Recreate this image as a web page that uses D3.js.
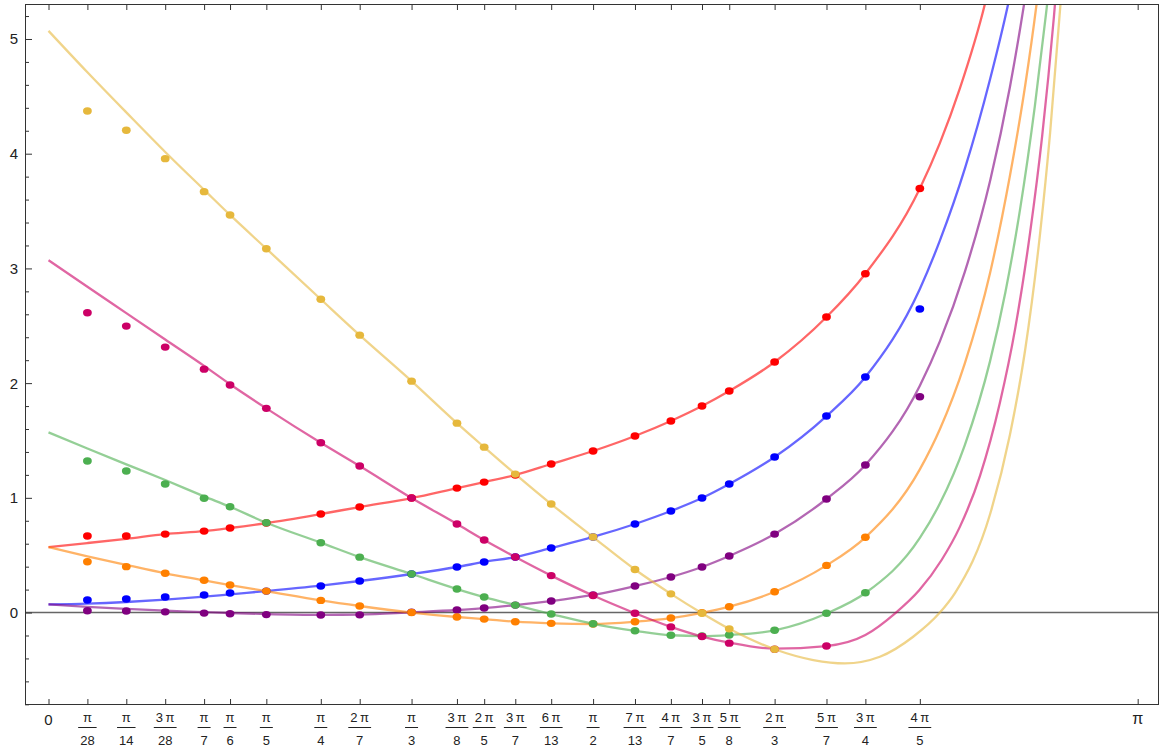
<!DOCTYPE html>
<html>
<head>
<meta charset="utf-8">
<script src="https://cdn.jsdelivr.net/npm/d3@7"></script>
<style>
  html, body { margin: 0; padding: 0; background: #fff; }
  svg { display: block; }
  text { font-family: "Liberation Sans", Arial, Helvetica, sans-serif; fill: #222; }
</style>
</head>
<body>
<svg id="chart" width="1161" height="752"></svg>
<script>
// Tick positions along x, as fractions of pi: [numerator, denominator]
const tickFractions = [[0,1],[1,28],[1,14],[3,28],[1,7],[1,6],[1,5],[1,4],[2,7],[1,3],[3,8],[2,5],[3,7],[6,13],[1,2],[7,13],[4,7],[3,5],[5,8],[2,3],[5,7],[3,4],[4,5],[1,1]];

// Curve samples on the grid 0, π/28, ..., 4π/5 (the first 23 tick positions);
// null where the continuation below takes over
const lineRed    = [0.571, 0.606, 0.643, 0.684, 0.710, 0.737, 0.780, 0.859, 0.920, 0.998, 1.085, 1.137, 1.199, 1.295, 1.408, 1.539, 1.670, 1.800, 1.931, 2.184, 2.576, 2.954, 3.697];
const lineBlue   = [0.071, 0.078, 0.092, 0.112, 0.138, 0.159, 0.187, 0.234, 0.275, 0.336, 0.397, 0.441, 0.484, 0.563, 0.659, 0.772, 0.885, 0.998, 1.120, 1.356, 1.713, 2.053, 2.821];
const linePurple = [0.071, 0.050, 0.032, 0.016, 0.004, -0.004, -0.013, -0.020, -0.018, 0.002, 0.022, 0.039, 0.065, 0.100, 0.153, 0.231, 0.310, 0.397, 0.493, 0.684, 0.990, 1.286, 1.978];
const lineOrange = [0.571, 0.490, 0.415, 0.342, 0.281, 0.240, 0.187, 0.106, 0.057, 0.000, -0.039, -0.057, -0.080, -0.094, -0.100, -0.080, -0.048, -0.002, 0.051, 0.181, 0.411, 0.656, 1.248];
const lineGreen  = [1.571, 1.430, 1.292, 1.155, 1.013, 0.922, 0.783, 0.609, 0.483, 0.336, 0.205, 0.135, 0.065, -0.013, -0.098, -0.159, -0.198, -0.205, -0.196, -0.155, -0.008, 0.170, 0.650];
const linePink   = [3.071, 2.840, 2.610, 2.380, 2.150, 1.990, 1.780, 1.480, 1.277, 0.998, 0.772, 0.632, 0.484, 0.322, 0.148, -0.006, -0.125, -0.209, -0.262, -0.315, -0.292, -0.196, null];
const lineYellow = [5.071, 4.710, 4.360, 4.015, 3.685, 3.466, 3.172, 2.731, 2.418, 2.017, 1.651, 1.442, 1.207, 0.946, 0.658, 0.375, 0.163, -0.006, -0.142, -0.320, null, null, null];

// Steep right-hand continuations: x in radians, y values
const tailRedX    = [2.571, 2.629, 2.701, 2.720];
const tailRedY    = [4.092, 4.571, 5.305, 5.55];
const tailBlueX   = [2.571, 2.644, 2.716, 2.768, 2.785];
const tailBlueY   = [3.242, 3.878, 4.651, 5.305, 5.55];
const tailPurpleX = [2.571, 2.643, 2.716, 2.773, 2.814, 2.830];
const tailPurpleY = [2.364, 2.969, 3.765, 4.580, 5.305, 5.62];
const tailOrangeX = [2.571, 2.643, 2.716, 2.773, 2.817, 2.850, 2.862];
const tailOrangeY = [1.598, 2.173, 2.963, 3.805, 4.592, 5.305, 5.60];
const tailGreenX  = [2.571, 2.643, 2.716, 2.760, 2.802, 2.845, 2.877, 2.886];
const tailGreenY  = [0.950, 1.460, 2.194, 2.792, 3.508, 4.415, 5.214, 5.45];
const tailPinkX   = [2.442, 2.512, 2.576, 2.629, 2.687, 2.744, 2.788, 2.831, 2.866, 2.900, 2.911];
const tailPinkY   = [-0.007, 0.196, 0.458, 0.749, 1.194, 1.827, 2.471, 3.305, 4.151, 5.194, 5.59];
const tailYellowX = [2.206, 2.297, 2.398, 2.494, 2.569, 2.615, 2.716, 2.773, 2.817, 2.860, 2.889, 2.918, 2.930];
const tailYellowY = [-0.414, -0.443, -0.385, -0.211, -0.007, 0.172, 0.859, 1.547, 2.289, 3.302, 4.181, 5.268, 5.77];

// Point values at π/28, π/14, ..., 4π/5 (null where there is no point)
const dotsRed    = [0.667, 0.667, 0.684, 0.710, 0.737, 0.780, 0.859, 0.920, 0.998, 1.085, 1.137, 1.199, 1.295, 1.408, 1.539, 1.670, 1.800, 1.931, 2.184, 2.576, 2.954, 3.697];
const dotsBlue   = [0.109, 0.118, 0.135, 0.153, 0.170, 0.187, 0.231, 0.275, 0.336, 0.397, 0.441, 0.484, 0.563, 0.659, 0.772, 0.885, 0.998, 1.120, 1.356, 1.713, 2.053, 2.646];
const dotsPurple = [0.015, 0.014, 0.006, -0.005, -0.010, -0.018, -0.022, -0.020, 0.002, 0.022, 0.039, 0.065, 0.100, 0.153, 0.231, 0.310, 0.397, 0.493, 0.684, 0.990, 1.286, 1.881];
const dotsOrange = [0.443, 0.400, 0.342, 0.281, 0.240, 0.187, 0.106, 0.057, 0.000, -0.039, -0.057, -0.080, -0.094, -0.100, -0.080, -0.048, -0.002, 0.051, 0.181, 0.411, 0.656, null];
const dotsGreen  = [1.321, 1.234, 1.120, 0.996, 0.922, 0.783, 0.609, 0.483, 0.336, 0.205, 0.135, 0.065, -0.013, -0.098, -0.159, -0.198, -0.205, -0.196, -0.155, -0.006, 0.173, null];
const dotsPink   = [2.614, 2.497, 2.314, 2.122, 1.983, 1.780, 1.480, 1.277, 0.998, 0.772, 0.632, 0.484, 0.322, 0.148, -0.006, -0.125, -0.209, -0.267, -0.320, -0.292, null, null];
const dotsYellow = [4.372, 4.204, 3.957, 3.669, 3.466, 3.172, 2.731, 2.418, 2.017, 1.651, 1.442, 1.207, 0.946, 0.658, 0.375, 0.163, -0.006, -0.142, -0.320, null, null, null];

// Series in drawing order
const seriesColors = ["#ff0000", "#0000ff", "#800080", "#ff8000", "#4caf50", "#cc0066", "#e6b83c"];
const seriesLines  = [lineRed, lineBlue, linePurple, lineOrange, lineGreen, linePink, lineYellow];
const seriesTailX  = [tailRedX, tailBlueX, tailPurpleX, tailOrangeX, tailGreenX, tailPinkX, tailYellowX];
const seriesTailY  = [tailRedY, tailBlueY, tailPurpleY, tailOrangeY, tailGreenY, tailPinkY, tailYellowY];
const seriesDots   = [dotsRed, dotsBlue, dotsPurple, dotsOrange, dotsGreen, dotsPink, dotsYellow];

const yMajor = [0, 1, 2, 3, 4, 5];
const yMinor = [-0.8, -0.6, -0.4, -0.2, 0.2, 0.4, 0.6, 0.8, 1.2, 1.4, 1.6, 1.8, 2.2, 2.4, 2.6, 2.8, 3.2, 3.4, 3.6, 3.8, 4.2, 4.4, 4.6, 4.8, 5.2];

const frame = { left: 25, right: 1159, top: 4, bottom: 705 };
const svg = d3.select("#chart");

const x = d3.scaleLinear().domain([-0.0678, 3.2031]).range([frame.left, frame.right]);
const y = d3.scaleLinear().domain([-0.806, 5.305]).range([frame.bottom, frame.top]);

const fracValue = f => Math.PI * f[0] / f[1];
const gridX = tickFractions.slice(0, 23).map(fracValue);
const dotX = tickFractions.slice(1, 23).map(fracValue);

svg.append("defs").append("clipPath").attr("id", "plotClip")
  .append("rect")
  .attr("x", frame.left).attr("y", frame.top)
  .attr("width", frame.right - frame.left).attr("height", frame.bottom - frame.top);

// Zero line
svg.append("line")
  .attr("x1", frame.left).attr("x2", frame.right)
  .attr("y1", y(0)).attr("y2", y(0))
  .attr("stroke", "#666").attr("stroke-width", 1.4);

// Curves
const lineGen = d3.line().x(d => x(d[0])).y(d => y(d[1])).curve(d3.curveMonotoneX);
const curves = svg.append("g").attr("clip-path", "url(#plotClip)");
seriesLines.forEach((vals, i) => {
  const pts = gridX.map((xv, j) => [xv, vals[j]]).filter(d => d[1] !== null)
    .concat(seriesTailX[i].map((xv, j) => [xv, seriesTailY[i][j]]));
  curves.append("path")
    .attr("d", lineGen(pts))
    .attr("fill", "none")
    .attr("stroke", seriesColors[i])
    .attr("stroke-opacity", 0.6)
    .attr("stroke-width", 2.3)
    .attr("stroke-linejoin", "round");
});

// Points
const points = svg.append("g");
seriesDots.forEach((vals, i) => {
  const pts = dotX.map((xv, j) => [xv, vals[j]]).filter(d => d[1] !== null);
  points.selectAll(null).data(pts).enter().append("ellipse")
    .attr("cx", d => x(d[0])).attr("cy", d => y(d[1]))
    .attr("rx", 4.4).attr("ry", 3.7)
    .attr("fill", seriesColors[i]);
});

// Frame axes with inward ticks
const xTickVals = tickFractions.map(fracValue);
const axisStyle = g => {
  g.select(".domain").remove();
  g.selectAll(".tick line").attr("stroke", "#333").attr("stroke-width", 1);
};
svg.append("g").attr("transform", `translate(0,${frame.bottom})`)
  .call(d3.axisBottom(x).tickValues(xTickVals).tickSize(-6).tickFormat(""))
  .call(axisStyle);
svg.append("g").attr("transform", `translate(0,${frame.top})`)
  .call(d3.axisTop(x).tickValues(xTickVals).tickSize(-6).tickFormat(""))
  .call(axisStyle);
svg.append("g").attr("transform", `translate(${frame.left},0)`)
  .call(d3.axisLeft(y).tickValues(yMajor).tickSize(-7).tickFormat(""))
  .call(axisStyle);
svg.append("g").attr("transform", `translate(${frame.left},0)`)
  .call(d3.axisLeft(y).tickValues(yMinor).tickSize(-4).tickFormat(""))
  .call(axisStyle);

svg.append("rect")
  .attr("x", frame.left + 0.5).attr("y", frame.top + 0.5)
  .attr("width", frame.right - frame.left - 1).attr("height", frame.bottom - frame.top - 1)
  .attr("fill", "none").attr("stroke", "#333").attr("stroke-width", 1);

// Y tick labels
svg.append("g").selectAll("text").data(yMajor).enter().append("text")
  .attr("x", 18).attr("y", d => y(d))
  .attr("dy", "0.36em")
  .attr("text-anchor", "end")
  .attr("font-size", 15)
  .text(d => d);

// X tick labels: stacked fractions of π
const xLabels = svg.append("g");
tickFractions.forEach(f => {
  const cx = x(fracValue(f));
  if (f[0] === 0) {
    xLabels.append("text").attr("x", cx).attr("y", 725)
      .attr("text-anchor", "middle").attr("font-size", 15).text("0");
    return;
  }
  if (f[1] === 1) {
    xLabels.append("text").attr("x", cx).attr("y", 724)
      .attr("text-anchor", "middle").attr("font-size", 16).text("π");
    return;
  }
  const numText = f[0] === 1 ? "π" : f[0] + "\u2009π";
  const num = xLabels.append("text").attr("x", cx).attr("y", 722)
    .attr("text-anchor", "middle").attr("font-size", 13).text(numText);
  const den = xLabels.append("text").attr("x", cx).attr("y", 745)
    .attr("text-anchor", "middle").attr("font-size", 13).text(f[1]);
  const w = Math.max(num.node().getComputedTextLength(), den.node().getComputedTextLength()) + 4;
  xLabels.append("line")
    .attr("x1", cx - w / 2).attr("x2", cx + w / 2)
    .attr("y1", 727.5).attr("y2", 727.5)
    .attr("stroke", "#222").attr("stroke-width", 1);
});
</script>
</body>
</html>
